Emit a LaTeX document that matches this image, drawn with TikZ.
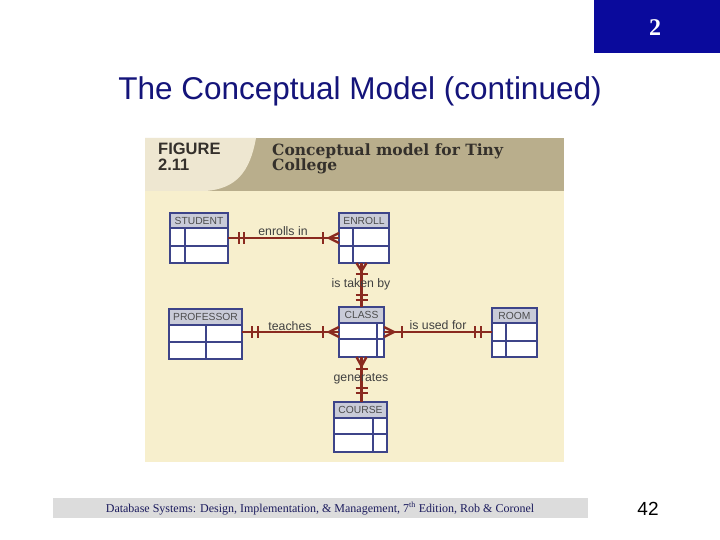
\documentclass[tikz,border=0pt]{standalone}
\usepackage{fontspec}
\setmainfont{Liberation Serif}
\setsansfont{Liberation Sans}
\newfontfamily\capfont{DejaVu Serif}
\usetikzlibrary{calc}
\definecolor{slideblue}{HTML}{0A0A9C}
\definecolor{titleblue}{HTML}{14147A}
\definecolor{cream}{HTML}{F7EFCD}
\definecolor{tan}{HTML}{B9AE8C}
\definecolor{lighttan}{HTML}{EEE7D1}
\definecolor{entline}{HTML}{3D4489}
\definecolor{enthdr}{HTML}{C9CBD8}
\definecolor{connred}{HTML}{8A2A1F}
\definecolor{footgray}{HTML}{DCDCDC}
\definecolor{foottext}{HTML}{1C1C5E}
\definecolor{figtext}{HTML}{34302B}
\tikzset{
  entlinestyle/.style={draw=entline, line width=1.4pt},
  entbox/.style={draw=entline, line width=1.4pt, inner sep=0pt, outer sep=0pt, rectangle},
  enttxt/.style={font=\sffamily\fontsize{10.3}{11}\selectfont, text=black!70, inner sep=0pt},
  conn/.style={draw=connred, line width=2.8pt},
  crow/.style={draw=connred, line width=2.4pt},
  barstyle/.style={draw=connred, line width=2.4pt},
  rellabel/.style={font=\sffamily\fontsize{12.3}{13}\selectfont, text=black!75, inner sep=0pt},
}
\newcommand\erent[9]{%
  \fill[white] (#2,#3) rectangle (#4,#5);
  \fill[enthdr] (#2,#3) rectangle (#4,#6);
  \draw[entlinestyle] (#2,#6) -- (#4,#6) (#2,#7) -- (#4,#7) (#8,#6) -- (#8,#5);
  \node[entbox, minimum width={(#4-#2)*1pt}, minimum height={(#5-#3)*1pt}] (#1) at ({(#2+#4)/2},{(#3+#5)/2}) {};
  \node[enttxt] (#1-t) at ({(#2+#4)/2},{(#3+#6)/2}) {#9};
}
\begin{document}
\begin{tikzpicture}[x=1pt,y=-1pt]
\useasboundingbox (0,0) rectangle (720,540);
\fill[white] (0,0) rectangle (720,540);
% slide number box
\fill[slideblue] (594,0) rectangle (720,53);
\node[text=white, font=\bfseries\fontsize{24}{24}\selectfont, anchor=base] (num) at (655,36) {2};
% title
\node[text=titleblue, font=\sffamily\fontsize{31.5}{32}\selectfont, anchor=base] (title) at (360,100) {The Conceptual Model (continued)};
% figure panel
\fill[cream] (145,138) rectangle (564,462);
\fill[tan] (145,138) rectangle (564,191);
\fill[lighttan] (145,138) -- (256,138) .. controls (250,172) and (236,189) .. (205,191) -- (145,191) -- cycle;
\node[anchor=base west, text=figtext, font=\sffamily\bfseries\fontsize{16.5}{17}\selectfont, inner sep=0pt] (fig1) at (158,155) {FIGURE};
\node[anchor=base west, text=figtext, font=\sffamily\bfseries\fontsize{16.5}{17}\selectfont, inner sep=0pt] (fig2) at (158,171) {2.11};
\node[anchor=base west, text=figtext, font=\capfont\bfseries\fontsize{15.5}{16}\selectfont, inner sep=0pt] (cap1) at (272,156) {Conceptual model for Tiny};
\node[anchor=base west, text=figtext, font=\capfont\bfseries\fontsize{15.5}{16}\selectfont, inner sep=0pt] (cap2) at (272,171) {College};
% entities
\erent{student}{170}{213}{228}{263}{228}{246}{185}{STUDENT}
\erent{enroll}{339}{213}{389}{263}{228}{246}{353}{ENROLL}
\erent{professor}{169}{309}{242}{359}{325}{342}{206}{PROFESSOR}
\erent{class}{339}{307}{384}{357}{323}{339}{377}{CLASS}
\erent{room}{492}{308}{537}{357}{323}{341}{506}{ROOM}
\erent{course}{334}{402}{387}{452}{418}{434}{373}{COURSE}
% enrolls in
\draw[conn] (student.east) -- (enroll.west);
\draw[barstyle] ($(student.east)+(11,-6)$) -- ++(0,12) ($(student.east)+(16,-6)$) -- ++(0,12);
\draw[barstyle] ($(enroll.west)+(-16,-6)$) -- ++(0,12);
\draw[crow] ($(enroll.west)+(-10,0)$) -- ++(10,-5) ($(enroll.west)+(-10,0)$) -- ++(10,5);
\node[rellabel] (l1) at (283,231) {enrolls in};
% is taken by
\coordinate (etop) at (class.north |- enroll.south);
\draw[conn] (etop) -- (class.north);
\draw[crow] ($(etop)+(0,8)$) -- ++(-5,-8) ($(etop)+(0,8)$) -- ++(5,-8);
\draw[barstyle] ($(etop)+(-6,11)$) -- ++(12,0);
\draw[barstyle] ($(class.north)+(-6,-12)$) -- ++(12,0) ($(class.north)+(-6,-7)$) -- ++(12,0);
\node[rellabel] (l2) at (361,284) {is taken by};
% teaches
\draw[conn] (class.west -| professor.east) -- (class.west);
\draw[barstyle] ($(class.west -| professor.east)+(10,-6)$) -- ++(0,12) ($(class.west -| professor.east)+(16,-6)$) -- ++(0,12);
\draw[barstyle] ($(class.west)+(-16,-6)$) -- ++(0,12);
\draw[crow] ($(class.west)+(-10,0)$) -- ++(10,-5) ($(class.west)+(-10,0)$) -- ++(10,5);
\node[rellabel] (l3) at (290,326) {teaches};
% is used for
\draw[conn] (class.east) -- (class.east -| room.west);
\draw[crow] ($(class.east)+(10,0)$) -- ++(-10,-5) ($(class.east)+(10,0)$) -- ++(-10,5);
\draw[barstyle] ($(class.east)+(18,-6)$) -- ++(0,12);
\draw[barstyle] ($(class.east -| room.west)+(-17,-6)$) -- ++(0,12) ($(class.east -| room.west)+(-11,-6)$) -- ++(0,12);
\node[rellabel] (l4) at (438,325) {is used for};
% generates
\coordinate (cbot) at (class.south);
\draw[conn] (cbot) -- (cbot |- course.north);
\draw[crow] ($(cbot)+(0,9)$) -- ++(-5,-9) ($(cbot)+(0,9)$) -- ++(5,-9);
\draw[barstyle] ($(cbot)+(-6,12)$) -- ++(12,0);
\draw[barstyle] ($(cbot |- course.north)+(-6,-14)$) -- ++(12,0) ($(cbot |- course.north)+(-6,-9)$) -- ++(12,0);
\node[rellabel] (l5) at (361,379) {generates};
% footer
\fill[footgray] (53,498) rectangle (588,518);
\node[text=foottext, font=\fontsize{12}{12}\selectfont, inner sep=0pt] (foot) at (320,508.5) {Database Systems: Design, Implementation, \& Management, 7\textsuperscript{th} Edition, Rob \& Coronel};
\node[font=\sffamily\fontsize{19}{19}\selectfont, inner sep=0pt, anchor=base] (page) at (648,515) {42};
\end{tikzpicture}
\end{document}
